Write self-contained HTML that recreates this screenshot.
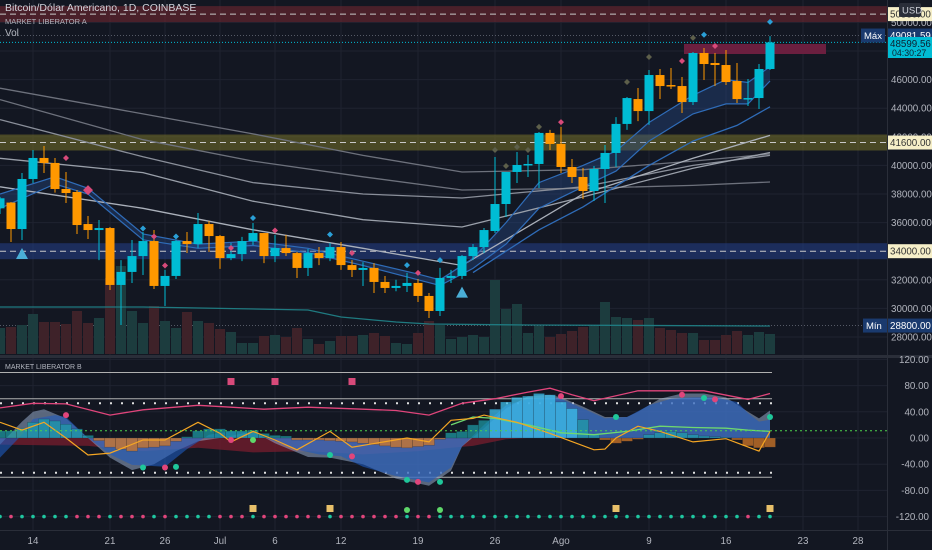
<!DOCTYPE html>
<html><head><meta charset="utf-8">
<style>
html,body{margin:0;padding:0;background:#131722;}
svg{display:block;font-family:"Liberation Sans",sans-serif;}
.t{fill:#b2b5be;font-size:9.8px;}
</style></head>
<body>
<svg id="c" width="932" height="550" viewBox="0 0 932 550" xmlns="http://www.w3.org/2000/svg">
<rect x="0" y="0" width="932" height="550" fill="#131722"/>
<g id="grid"></g>
<g id="zones"></g>
<g id="vol"></g>
<g id="mas"></g>
<g id="candles"></g>
<g id="marks"></g>
<g id="osc"></g>
<g id="axes"></g>
<text x="5" y="11" fill="#d1d4dc" font-size="10.5">Bitcoin/Dólar Americano, 1D, COINBASE</text>
<text x="5" y="24" fill="#b2b5be" font-size="7.5">MARKET LIBERATOR A</text>
<text x="5" y="36" fill="#b2b5be" font-size="10">Vol</text>
<text x="5" y="369" fill="#b2b5be" font-size="7">MARKET LIBERATOR B</text>
</svg>
<script>
// ---- data ----
const dayIdx=[-3,-2,-1,0,1,2,3,4,5,6,7,8,9,10,11,12,13,14,15,16,17,18,19,20,21,22,23,24,25,26,27,28,29,30,31,32,33,34,35,36,37,38,39,40,41,42,43,44,45,46,47,48,49,50,51,52,53,54,55,56,57,58,59,60,61,62,63,64,65,66,67];
const opens=[37000,37400,35550,39050,40520,40170,38350,38140,35900,35480,35620,31640,32550,33660,34710,31570,32270,34710,34500,35900,35060,33520,33800,34710,35270,33660,34220,33870,32830,33870,33520,34290,33030,32690,32830,31850,31430,31570,31780,30870,29820,32130,32270,33660,34290,35410,37300,39540,40030,40100,42270,41500,39890,39190,38210,39750,40870,42900,44640,43800,46320,45620,45550,44430,47860,47160,47020,45900,44640,44710,46740];
const highs=[37800,37440,39470,41080,41360,40520,39540,38280,36460,36180,35690,33380,34780,35340,35480,32690,34780,35340,36670,36110,35130,34570,35000,35970,35270,35130,35130,33950,34150,34290,34570,34640,33380,33240,33170,32270,32000,32480,32060,31080,32830,32690,33730,34500,35620,40590,39540,40940,40730,42340,42480,42690,40450,39820,39960,41430,43380,44780,45410,46670,46740,46810,46180,47930,48210,47860,48070,47160,46040,47090,49040];
const lows=[36600,34640,34780,38770,39470,38100,37370,35200,34850,33380,31290,28840,31780,32340,31360,30170,32060,33870,34220,33940,32760,33380,33310,34430,33170,33240,33660,32130,32270,33030,33310,32690,32200,31570,31080,31080,31200,31150,30450,29330,29470,31780,32060,33380,33870,35270,36390,38770,39190,38420,41080,39470,38770,37650,37510,37370,39890,42480,43100,42830,44640,45340,43660,44220,45970,45550,45620,44360,44150,43940,46670];
const closes=[37700,35550,39050,40520,40170,38350,38070,35830,35480,35620,31640,32550,33660,34710,31570,32270,34710,34500,35900,35060,33520,33800,34710,35270,33660,34220,33870,32830,33870,33520,34290,33030,32690,32830,31850,31430,31570,31780,30870,29820,32130,32270,33660,34290,35480,37300,39540,40030,40100,42270,41500,39890,39190,38210,39750,40870,42900,44710,43800,46320,45550,45550,44430,47860,47090,47020,45830,44640,44710,46740,48600];
const volumes=[13,13.5,14.5,20,16,16,15,21.5,15.5,18,38,44,21.5,15.5,24,16.5,13,21,16.5,15.5,12.5,11,5.5,5.5,9,9.5,8.5,13,7.5,5,6.5,9,9,9.5,10.5,9,5.5,5,10.5,16.5,14.5,7.5,8.5,9.5,8.5,37,22.5,25,10.5,14,8.5,10,11.5,13.5,14,26,18.5,18,17,18,13,12,10.5,10.5,7,7,9.5,11.5,9.5,11,10];
const volMaIdx=[-3,10,25,28,33,36,45,67];
const volMaVals=[23.5,23.5,22,18.5,16,15,14.5,14];
const maIdx=[-3,10,20,30,39,50,60,67];
const maA=[45400,43600,42200,40700,39540,39700,40300,40800];
const maB=[44600,41800,40300,39200,38280,38400,38600,38840];
const maC=[43200,40600,38800,38000,37720,38500,40000,40700];
const maD=[40500,39500,37500,36200,35690,37800,39800,40900];
const maE=[38500,37000,35500,34200,33000,38000,40500,42100];
const ribIdx=[-3,2,5,10,15,20,25,30,35,37,40,43,46,50,53,56,60,63,65,67];
const ribUp=[38000,39200,38400,35200,34500,34700,34200,33300,32400,32000,33500,36000,38800,40000,41000,43000,44900,46000,45800,46900];
const ribLo=[37000,38700,38000,34800,34200,34400,33900,33000,32000,31600,32800,34500,37000,38500,39600,41700,43600,44300,44300,45900];
const ema3Idx=[40,46,50,56,60,64,67];
const ema3Vals=[32500,35500,37100,40000,41700,42800,44100];
const diamondIdx=[3,5,10,11,12,13,18,20,22,27,29,34,35,37,42,43,44,45,46,48,54,56,59,60,61,62,67];
const diamondPrice=[40520,38270,35590,35030,33000,35030,34220,36320,35450,35170,33870,33030,32480,33380,41080,39960,41290,41080,42690,43030,45830,47580,47300,48920,49140,48350,50040];
const diamondColor=['p','p','b','p','p','b','p','b','p','b','p','b','p','b','g','g','g','g','g','p','g','g','p','g','b','p','b'];
const triIdx=[-1,39];
const triPrice=[33800,31100];
// oscillator
const histVals=[11,11,15,24,29,26,21,14,4,-4,-14,-17,-20,-15,-14,-12,-5,2,11,14,14,11,11,12,7,4,3,-3,-3,-3,-4,-5,-6,-8,-10,-12,-14,-15,-13,-11,-2,8,10,20,27,44,55,62,64,68,66,55,45,28,5,-3,-8,-5,-2,5,8,10,8,5,3,2,1,-3,-12,-15,-14];
const waveBIdx=[-3,-1,0,2,3,5,7,9,12,14,16,18,20,22,24,26,28,30,33,36,38,39,41,43,45,47,48,50,52,54,56,58,60,62,64,65,66,67];
const waveBVals=[-30,5,29,35,32,0,-25,-41,-44,-17,5,10,8,-5,-18,-25,-28,-44,-58,-68,-45,-13,20,50,60,62,60,45,30,32,50,60,62,62,55,38,25,28];
const waveAIdx=[-3,-1,0,1,3,5,7,9,11,13,15,17,20,22,25,27,30,33,36,38,39,41,43,45,47,48,50,52,54,55,57,59,61,63,65,66,67];
const waveAVals=[-10,25,40,44,30,0,-30,-49,-40,-20,-5,0,10,-8,-29,-30,-40,-62,-73,-50,-13,15,45,64,66,62,48,32,32,40,60,68,68,62,40,30,42];
const mfIdx=[-3,5,10,15,20,25,30,35,38,40,43,45,67];
const mfVals=[-10,-12,-20,-15,-22,-20,-25,-20,-15,-12,-2,0,0];
const pinkIdx=[-3,0,3,7,10,15,18,21,25,30,33,36,39,42,45,47,49,51,55,57,61,65,67];
const pinkVals=[46,53,52,35,43,50,47,44,47,44,42,35,53,60,70,76,66,57,72,72,72,59,68];
const orIdx=[-3,-1,1,3,5,7,10,12,15,17,18,20,22,24,27,29,34,36,38,40,41,44,47,51,52,53,55,57,60,63,66,67];
const orVals=[24,12,24,0,-26,-23,-3,-3,24,7,-6,10,-3,-18,10,-14,0,-6,27,30,35,24,7,-18,-17,0,18,10,-6,-1,-20,10];
const grIdx=[38,40,42,45,48,51,54,57,60,63,65,67];
const grVals=[20,32,30,20,8,5,10,18,16,15,12,10];
const dotSeq='TPTTTTTPPPTPPPTPTTTTPPPTPPPPPPTPPPPPPTPPTTTTTTTTTTTTTTTTTTTTTTTTTTTTPTT';
const sqPinkIdx=[18,22,29];
const sqGoldIdx=[20,27,53,67];
const bigGreenIdx=[34,37];
const waveDotIdx=[3,10,12,13,18,20,27,29,34,35,37,48,53,59,61,62,67];
const waveDotVals=[35,-45,-45,-44,-3,-3,-26,-28,-64,-67,-67,64,32,66,61,59,32];
const waveDotCol=['p','t','p','t','p','g','t','p','t','p','t','p','t','p','t','p','t'];
const priceTicks=[28000,30000,32000,34000,36000,38000,40000,42000,44000,46000,48000,50000];
const oscTicks=[120,80,40,0,-40,-80,-120];
const dateIdx=[0,7,12,17,22,28,35,42,48,56,63,70,75];
const dateLbl=['14','21','26','Jul','6','12','19','26','Ago','9','16','23','28'];

// ---- scales ----
const NS='http://www.w3.org/2000/svg';
const X=i=>33+11*i;
const YP=p=>337-(p-28000)*0.0143;
const YV=v=>354-v*2;
const YO=v=>438-v*0.655;
function el(tag,attrs,parent){const e=document.createElementNS(NS,tag);for(const k in attrs)e.setAttribute(k,attrs[k]);parent.appendChild(e);return e;}
const $=id=>document.getElementById(id);
function poly(idx,vals,ys){return idx.map((d,k)=>X(d).toFixed(1)+','+ys(vals[k]).toFixed(1)).join(' ');}

// grid
const G=$('grid');
dateIdx.forEach(d=>{const l=el('line',{x1:X(d),x2:X(d),y1:0,y2:530,stroke:'#1f2330','stroke-width':1},G);});
priceTicks.forEach(p=>{const l=el('line',{x1:0,x2:887,y1:YP(p),y2:YP(p),stroke:'#1f2330'},G);});
oscTicks.forEach(v=>{const l=el('line',{x1:0,x2:887,y1:YO(v),y2:YO(v),stroke:'#1f2330'},G);});

// zones
const Z=$('zones');
[[50580,'rgba(120,40,50,0.55)'],[41600,'rgba(110,105,40,0.6)'],[34000,'rgba(35,60,130,0.6)']].forEach(z=>{
 const y=YP(z[0]);
 const r=el('rect',{x:0,y:y-8,width:887,height:16,fill:z[1]},Z);
 const l=el('line',{x1:0,x2:887,y1:y,y2:y,stroke:'#c8c8c8','stroke-dasharray':'6,4','stroke-width':1},Z);
});
let mr=el('rect',{x:684,y:44,width:142,height:10,fill:'#6b1f3f'},Z);
let ml=el('line',{x1:0,x2:887,y1:YP(49081.59),y2:YP(49081.59),stroke:'#555a66','stroke-dasharray':'1,2'},Z);
let cl=el('line',{x1:0,x2:887,y1:YP(48599.56),y2:YP(48599.56),stroke:'#00bcd4','stroke-dasharray':'1,2'},Z);
let nl=el('line',{x1:0,x2:887,y1:YP(28800),y2:YP(28800),stroke:'#555a66','stroke-dasharray':'1,2'},Z);

// volume
const V=$('vol');
dayIdx.forEach((d,k)=>{const up=closes[k]>=opens[k];const r=el('rect',{x:X(d)-5,y:YV(volumes[k]),width:10,height:354-YV(volumes[k]),fill:up?'#1c3c3e':'#3e2229'},V);});
let vm=el('polyline',{points:poly(volMaIdx,volMaVals,YV),fill:'none',stroke:'#1f7a80','stroke-width':1.3},V);

// MAs
const M=$('mas');
let rib=el('polygon',{points:poly(ribIdx,ribUp,YP)+' '+poly(ribIdx.slice().reverse(),ribLo.slice().reverse(),YP),fill:'rgba(40,80,150,0.35)'},M);
[[maA,'#6d717c'],[maB,'#6d717c'],[maC,'#8a8f9a'],[maD,'#9aa0aa'],[maE,'#aab0ba']].forEach(m=>{const p=el('polyline',{points:poly(maIdx,m[0],YP),fill:'none',stroke:m[1],'stroke-width':1.3},M);});
[[ribUp,'#2f6cb8'],[ribLo,'#2f6cb8']].forEach(m=>{const p=el('polyline',{points:poly(ribIdx,m[0],YP),fill:'none',stroke:m[1],'stroke-width':1.2},M);});
let e3=el('polyline',{points:poly(ema3Idx,ema3Vals,YP),fill:'none',stroke:'#2f6cb8','stroke-width':1.3},M);

// candles
const C=$('candles');
dayIdx.forEach((d,k)=>{const up=closes[k]>=opens[k];const col=up?'#00bcd4':'#ff9800';
 const w=el('line',{x1:X(d),x2:X(d),y1:YP(highs[k]),y2:YP(lows[k]),stroke:col,'stroke-width':1},C);
 const t=Math.min(YP(opens[k]),YP(closes[k]));const h=Math.max(1.5,Math.abs(YP(opens[k])-YP(closes[k])));
 const b=el('rect',{x:X(d)-4.5,y:t,width:9,height:h,fill:col},C);});

// markers
const MK=$('marks');const dcol={p:'#d84a7a',b:'#2a9fd6',g:'#5d5f4a'};
diamondIdx.forEach((d,k)=>{const x=X(d),y=YP(diamondPrice[k]),s=(d===5)?5:3;const p=el('polygon',{points:`${x},${y-s} ${x+s},${y} ${x},${y+s} ${x-s},${y}`,fill:dcol[diamondColor[k]]},MK);});
triIdx.forEach((d,k)=>{const x=X(d),y=YP(triPrice[k]);const p=el('polygon',{points:`${x},${y-6} ${x+6},${y+5} ${x-6},${y+5}`,fill:'#4aaed6'},MK);});

// oscillator
const O=$('osc');
let sep=el('rect',{x:0,y:355,width:932,height:3,fill:'#2a2e39'},O);
[[100,'#b0b0b0'],[60,'#b0b0b0'],[-60,'#b0b0b0']].forEach(l=>{const e=el('line',{x1:0,x2:772,y1:YO(l[0]),y2:YO(l[0]),stroke:l[1],'stroke-width':1},O);});
[53,-53].forEach(v=>{const e=el('line',{x1:0,x2:772,y1:YO(v),y2:YO(v),stroke:'#e0e0e0','stroke-width':2,'stroke-dasharray':'2,9'},O);});
function area(idx,vals,fill,name){const pts=X(idx[0])+','+YO(0)+' '+poly(idx,vals,YO)+' '+X(idx[idx.length-1])+','+YO(0);const e=el('polygon',{points:pts,fill:fill},O);}
area(mfIdx,mfVals,'rgba(120,30,45,0.75)','money-flow-area');
area(waveAIdx,waveAVals,'rgba(150,170,200,0.55)','wave-1-area');
area(waveBIdx,waveBVals,'rgba(30,90,190,0.6)','wave-2-area');
dayIdx.forEach((d,k)=>{const v=histVals[k];const y=Math.min(YO(0),YO(v));const big=Math.abs(v)>30;const col=v>=0?(big?'rgba(60,190,235,0.75)':'rgba(30,160,170,0.7)'):'rgba(210,120,40,0.75)';const r=el('rect',{x:X(d)-5.5,y:y,width:11,height:Math.abs(YO(v)-YO(0)),fill:col,stroke:'rgba(20,25,35,0.4)','stroke-width':0.5},O);});
let pl=el('polyline',{points:poly(pinkIdx,pinkVals,YO),fill:'none',stroke:'#e0457b','stroke-width':1.3},O);
let gl=el('polyline',{points:poly(grIdx,grVals,YO),fill:'none',stroke:'#6fd86f','stroke-width':1.3},O);
let ol=el('polyline',{points:poly(orIdx,orVals,YO),fill:'none',stroke:'#f5a623','stroke-width':1.2},O);
let zg=el('line',{x1:0,x2:887,y1:YO(11),y2:YO(11),stroke:'#4cd44c','stroke-width':1,'stroke-dasharray':'2,3'},O);
const wc={p:'#e0457b',t:'#1fc79a',g:'#5fd86a'};
waveDotIdx.forEach((d,k)=>{const c=el('circle',{cx:X(d),cy:YO(waveDotVals[k]),r:3,fill:wc[waveDotCol[k]]},O);});
dayIdx.forEach((d,k)=>{const c=el('circle',{cx:X(d),cy:YO(-120),r:1.8,fill:dotSeq[k]==='P'?'#e0457b':'#1fc7a0'},O);});
sqPinkIdx.forEach(d=>{const r=el('rect',{x:X(d)-3.5,y:378,width:7,height:7,fill:'#d84a7a'},O);});
sqGoldIdx.forEach(d=>{const r=el('rect',{x:X(d)-3.5,y:505,width:7,height:7,fill:'#e8c06a'},O);});
bigGreenIdx.forEach(d=>{const c=el('circle',{cx:X(d),cy:510,r:3,fill:'#5fd86a'},O);});

// axes
const A=$('axes');
let ab=el('line',{x1:887.5,x2:887.5,y1:0,y2:550,stroke:'#2a2e39'},A);
let tb=el('line',{x1:0,x2:932,y1:530.5,y2:530.5,stroke:'#2a2e39'},A);
priceTicks.forEach(p=>{const t=el('text',{x:891,y:YP(p)+3.5,class:'t'},A);t.textContent=p.toFixed(2);});
oscTicks.forEach(v=>{const t=el('text',{x:929,y:YO(v)+3.5,class:'t','text-anchor':'end'},A);t.textContent=v.toFixed(2);});
dateIdx.forEach((d,k)=>{const t=el('text',{x:X(d),y:544,class:'t','text-anchor':'middle'},A);t.textContent=dateLbl[k];});
function tag(y,bg,fg,txt,name,h){const r=el('rect',{x:888,y:y-(h||14)/2,width:44,height:h||14,fill:bg},A);const t=el('text',{x:890,y:y+3.5,fill:fg,'font-size':'9.8'},A);t.textContent=txt;return t;}
tag(YP(50580),'#f6efc8','#333','50580.00','zone-top-label');
tag(YP(41600),'#f6efc8','#333','41600.00','zone-mid-label');
tag(YP(34000),'#f6efc8','#333','34000.00','zone-low-label');
tag(YP(49081.59),'#1a3a6e','#fff','49081.59','max-price-label');
tag(YP(28800),'#1a3a6e','#fff','28800.00','min-price-label');
let cb=el('rect',{x:888,y:37,width:44,height:21,fill:'#00bcd4'},A);
let ct=el('text',{x:890,y:47,fill:'#0d2030','font-size':'9.8'},A);ct.textContent='48599.56';
let cd=el('text',{x:892,y:56,fill:'#0d2030','font-size':'8.8'},A);cd.textContent='04:30:27';
[[864,YP(49081.59),'Máx'],[866,YP(28800),'Mín']].forEach(m=>{const r=el('rect',{x:m[0]-3,y:m[1]-7,width:24,height:14,fill:'#1a3a6e'},A);const t=el('text',{x:m[0],y:m[1]+3.5,fill:'#fff','font-size':'9.5'},A);t.textContent=m[2];});
let ub=el('rect',{x:899,y:3,width:22,height:14,rx:2,fill:'#2a2e39'},A);
let ut=el('text',{x:902,y:13.5,fill:'#d1d4dc','font-size':'9.5'},A);ut.textContent='USD';
</script>
</body></html>
